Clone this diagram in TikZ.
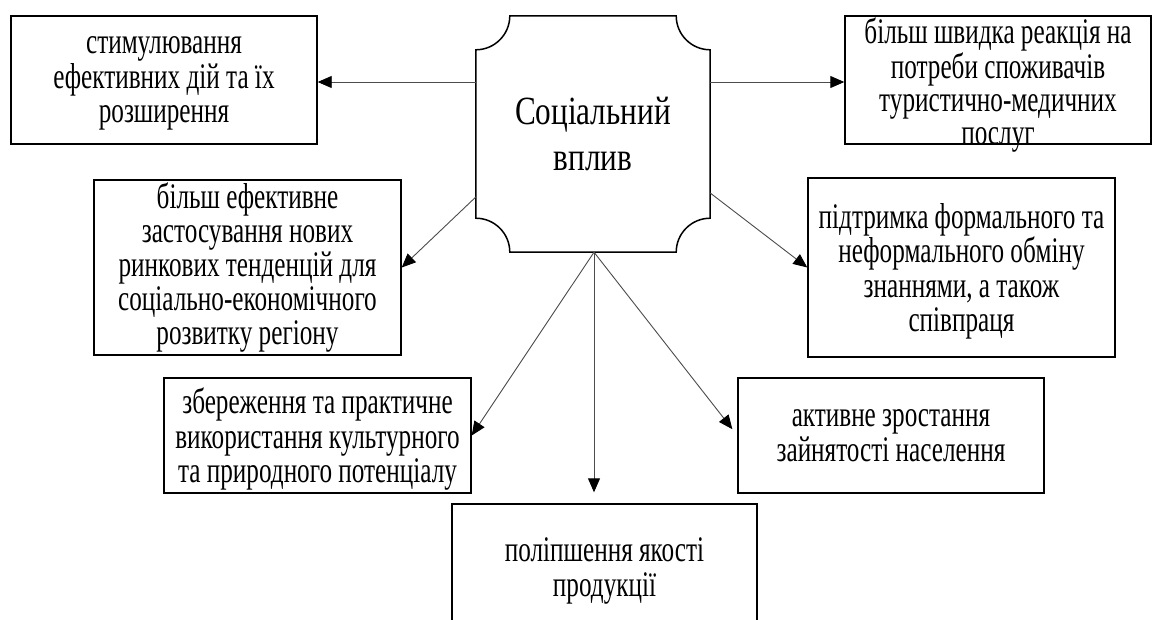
\documentclass[tikz,border=0pt]{standalone}
\usepackage{fontspec}
\setmainfont{Liberation Serif}
\newfontfamily\boxserif[FakeStretch=0.7]{Liberation Serif}
\newfontfamily\midserif[FakeStretch=0.78]{Liberation Serif}
\usetikzlibrary{arrows.meta}
\begin{document}
\begin{tikzpicture}[x=1pt,y=1pt,
  boxnode/.style={draw, line width=1.4pt, inner sep=0pt, align=center, text depth=0pt,
    font={\boxserif\fontsize{36}{34.5}\selectfont}},
  arr/.style={line width=0.9pt, draw=black!70, -{Triangle[length=14pt,width=12pt,color=black]}}]
\useasboundingbox (0,0) rectangle (1152,-619);
\fill[white] (0,0) rectangle (1152,-619);
% central node
\node[inner sep=0pt, minimum width=234pt, minimum height=236pt, align=center, text depth=0pt,
  font={\midserif\fontsize{40}{46}\selectfont}] (c) at (593,-134) {Соціальний\\вплив};
\draw[line width=1.5pt]
  ([xshift=34pt]c.north west) -- ([xshift=-34pt]c.north east)
  arc[start angle=180, end angle=270, radius=34pt]
  -- ([yshift=34pt]c.south east)
  arc[start angle=90, end angle=180, radius=34pt]
  -- ([xshift=34pt]c.south west)
  arc[start angle=0, end angle=90, radius=34pt]
  -- ([yshift=-34pt]c.north west)
  arc[start angle=270, end angle=360, radius=34pt] -- cycle;
% boxes
\node[boxnode, minimum width=306pt, minimum height=128pt] (b1) at (164,-80)
  {стимулювання\\ефективних дій та їх\\розширення};
\node[boxnode, text depth=8pt, font={\boxserif\fontsize{36}{34}\selectfont},
  minimum width=307pt, minimum height=175pt] (b2) at (247.5,-267.5)
  {більш ефективне\\застосування нових\\ринкових тенденцій для\\соціально-економічного\\розвитку регіону};
\node[draw, line width=1.4pt, minimum width=306pt, minimum height=128pt, inner sep=0pt] (b3) at (998,-80) {};
\node[align=center, inner sep=0pt, font={\boxserif\fontsize{36}{33}\selectfont}] (t3) at (998,-85)
  {більш швидка реакція на\\потреби споживачів\\туристично-медичних\\послуг};
\node[boxnode, minimum width=307pt, minimum height=179pt] (b4) at (961.5,-267.5)
  {підтримка формального та\\неформального обміну\\знаннями, а також\\співпраця};
\node[boxnode, minimum width=307pt, minimum height=115pt] (b5) at (317.5,-435.5)
  {збереження та практичне\\використання культурного\\та природного потенціалу};
\node[boxnode, minimum width=306pt, minimum height=115pt] (b6) at (891,-435.5)
  {активне зростання\\зайнятості населення};
\node[boxnode, minimum width=305pt, minimum height=126pt] (b7) at (604.5,-567)
  {поліпшення якості\\продукції};
% connectors
\draw[arr] ([yshift=52pt]c.west) -- ([yshift=52pt]c.west -| b1.east);
\draw[arr] ([yshift=52pt]c.east) -- ([yshift=52pt]c.east -| b3.west);
\draw[arr] ([yshift=-63pt]c.west) -- (b2.east);
\draw[arr] ([yshift=-59pt]c.east) -- (b4.west);
\draw[arr] ([xshift=1pt]c.south) -- ([xshift=1pt,yshift=11pt]c.south |- b7.north);
\draw[arr] ([xshift=1pt]c.south) -- (b5.east);
\draw[arr, shorten >=8pt] ([xshift=1pt]c.south) -- (b6.west);
\end{tikzpicture}
\end{document}
